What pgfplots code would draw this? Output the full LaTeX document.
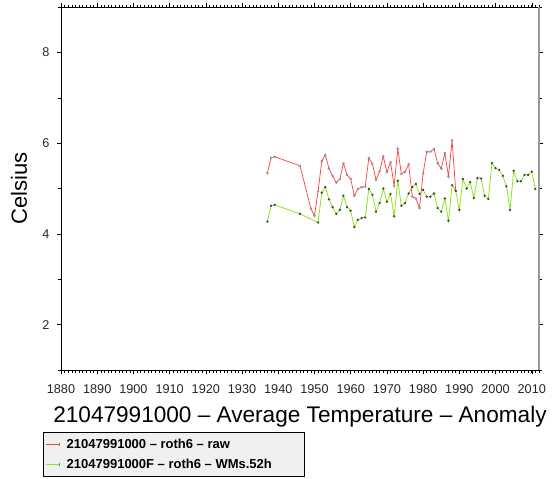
\documentclass[border=0pt]{standalone}
\usepackage{fontspec}
\setmainfont{Liberation Sans}
\usepackage{pgfplots}
\pgfplotsset{compat=1.18}
\definecolor{rawred}{RGB}{255,60,60}
\definecolor{wmgreen}{RGB}{140,230,30}
\begin{document}
\begin{tikzpicture}
\path[use as bounding box] (-61pt,-109pt) rectangle (493pt,370pt);
\begin{axis}[
  scale only axis, width=478pt, height=363pt,
  xmin=1880, xmax=2012, ymin=1, ymax=9,
  clip mode=individual,
  xtick={1880,1890,...,2010},
  minor xtick={1881,...,2012},
  ytick={2,4,6,8}, minor ytick={1,3,5,7,9},
  tick align=outside, tick pos=both,
  major tick length=4pt, minor tick length=2.5pt,
  /pgf/number format/assume math mode=true,
  /pgf/number format/1000 sep={},
  tick label style={font=\fontsize{12.7}{14}\selectfont, color=black!85},
  xticklabel style={yshift=-7pt},
  yticklabel style={xshift=-4pt},
  axis line style={line width=0.8pt},
  every tick/.style={black, line width=0.5pt},
  legend style={at={(axis description cs:-0.0377,-0.1708)}, anchor=north west,
    fill=gray!12, draw=black, line width=1pt, row sep=3pt, column sep=5pt,
    nodes={inner ysep=3pt},
    font=\bfseries\fontsize{13}{15}\selectfont, inner xsep=2pt, inner ysep=3.5pt},
  legend cell align=left,
]
\addplot[color=rawred, line width=0.7pt, mark=*, mark size=1.1pt,
  mark options={draw=gray, fill=gray!60, line width=0.3pt},
  legend image code/.code={
    \draw[rawred, line width=1.2pt] (0pt,0pt) -- (13pt,0pt);
    \draw[gray, line width=0.5pt] (13pt,-1.5pt) -- (13pt,1.5pt);
  }] coordinates {
(1937,5.34) (1938,5.68) (1939,5.70) (1946,5.50) (1949,4.56) (1950,4.40)
(1951,4.94) (1952,5.60) (1953,5.74) (1954,5.44) (1955,5.28) (1956,5.13)
(1957,5.21) (1958,5.55) (1959,5.30) (1960,5.21) (1961,4.84) (1962,4.99)
(1963,5.03) (1964,5.04) (1965,5.67) (1966,5.54) (1967,5.19) (1968,5.38)
(1969,5.71) (1970,5.36) (1971,5.58) (1972,5.06) (1973,5.87) (1974,5.32)
(1975,5.37) (1976,5.54) (1977,4.82) (1978,4.78) (1979,4.57) (1980,5.33)
(1981,5.81) (1982,5.81) (1983,5.87) (1984,5.56) (1985,5.44) (1986,5.78)
(1987,5.27) (1988,6.06) (1989,4.95)
};
\addlegendentry{\makebox[234pt][l]{21047991000 – roth6 – raw}}
\addplot[color=wmgreen, line width=0.8pt, mark=*, mark size=0.7pt,
  mark options={draw=darkgray, fill=darkgray},
  legend image code/.code={
    \draw[wmgreen, line width=1.2pt] (0pt,0pt) -- (13pt,0pt);
    \draw[gray, line width=0.5pt] (13pt,-1.5pt) -- (13pt,1.5pt);
  }] coordinates {
(1937,4.27) (1938,4.62) (1939,4.64) (1946,4.44) (1951,4.25) (1952,4.91)
(1953,5.03) (1954,4.76) (1955,4.59) (1956,4.44) (1957,4.53) (1958,4.84)
(1959,4.59) (1960,4.51) (1961,4.15) (1962,4.31) (1963,4.35) (1964,4.36)
(1965,4.99) (1966,4.86) (1967,4.49) (1968,4.68) (1969,5.00) (1970,4.71)
(1971,4.88) (1972,4.39) (1973,5.17) (1974,4.62) (1975,4.68) (1976,4.89)
(1977,5.03) (1978,5.10) (1979,4.88) (1980,4.97) (1981,4.82) (1982,4.82)
(1983,4.89) (1984,4.57) (1985,4.49) (1986,4.78) (1987,4.29) (1988,5.07)
(1989,4.95) (1990,4.53) (1991,5.21) (1992,5.00) (1993,5.14) (1994,4.79)
(1995,5.23) (1996,5.22) (1997,4.84) (1998,4.77) (1999,5.56) (2000,5.45)
(2001,5.41) (2002,5.28) (2003,5.05) (2004,4.53) (2005,5.39) (2006,5.16)
(2007,5.16) (2008,5.30) (2009,5.30) (2010,5.37) (2011,4.99)
};
\addlegendentry{\makebox[234pt][l]{21047991000F – roth6 – WMs.52h}}
\draw[gray!80, line width=1.5pt] (rel axis cs:1,0) -- (rel axis cs:1,1);
\node[font=\fontsize{22.6}{26}\selectfont, anchor=center] at ([yshift=-47pt]rel axis cs:0.5,0) {21047991000 – Average Temperature – Anomaly};
\node[font=\fontsize{22}{26}\selectfont, rotate=90, anchor=center] at ([xshift=-42pt]rel axis cs:0,0.5) {Celsius};
\end{axis}
\end{tikzpicture}
\end{document}
